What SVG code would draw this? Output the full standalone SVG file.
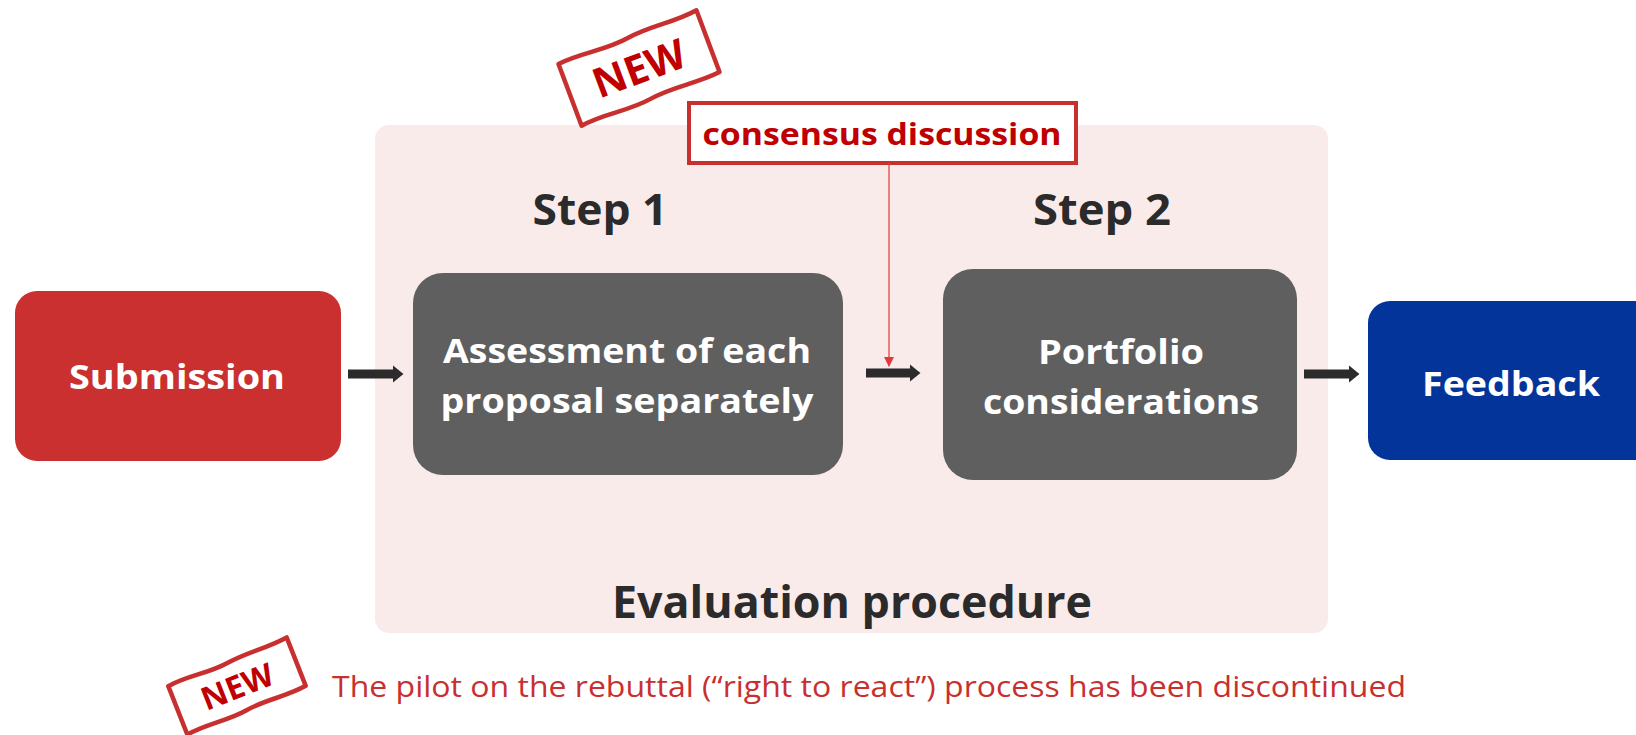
<svg xmlns="http://www.w3.org/2000/svg" width="1636" height="735" viewBox="0 0 1636 735">
<defs>
<style>
.b{font-family:"Open Sans","Noto Sans","Liberation Sans",sans-serif;font-weight:700}
.r{font-family:"Open Sans","Noto Sans","Liberation Sans",sans-serif;font-weight:400}
.wt{fill:#ffffff;font-size:34px}
.dk{fill:#2b2b2b}
.red{fill:#c00000}
.stamp{fill:#ffffff;stroke:#c8302f;stroke-width:4.5;stroke-linejoin:round}
.flow{stroke:#2b2b2b;stroke-width:9;fill:none}
</style>
<marker id="ah" viewBox="0 0 11 18" refX="0.5" refY="9" markerWidth="11" markerHeight="18" orient="auto" markerUnits="userSpaceOnUse">
<path d="M0,0 L11,9 L0,18 Z" fill="#2b2b2b"/>
</marker>
<marker id="rh" viewBox="0 0 10 10" refX="9" refY="5" markerWidth="10" markerHeight="10" orient="auto" markerUnits="userSpaceOnUse">
<path d="M0,0 L10,5 L0,10 Z" fill="#e03a3a"/>
</marker>
</defs>
<rect width="1636" height="735" fill="#ffffff"/>

<g id="evaluation-panel">
<rect x="375" y="125" width="953" height="508" rx="14" fill="#faebeb"/>
<text class="b dk" x="852" y="618" font-size="44" text-anchor="middle" textLength="480" lengthAdjust="spacingAndGlyphs">Evaluation procedure</text>
</g>

<g id="stamp-top" transform="translate(639,68) rotate(-20.5)">
<path class="stamp" d="M-74,-32 C-48,-35 -26,-28 0,-32 C26,-36 48,-30 74,-34 L74,32 C48,35 26,29 0,33 C-26,37 -48,30 -74,34 Z"/>
<text class="b" x="0" y="15" font-size="41" fill="#c00000" text-anchor="middle">NEW</text>
</g>

<g id="consensus">
<rect x="689" y="103" width="387" height="60" fill="#ffffff" stroke="#c8302f" stroke-width="4"/>
<text class="b red" x="882" y="145" font-size="31" text-anchor="middle" textLength="359" lengthAdjust="spacingAndGlyphs">consensus discussion</text>
</g>

<g id="submission">
<rect x="15" y="291" width="326" height="170" rx="22" fill="#c9302f"/>
<text class="b wt" x="177" y="389" text-anchor="middle" textLength="216" lengthAdjust="spacingAndGlyphs">Submission</text>
</g>

<g id="step1">
<text class="b dk" x="600" y="225" font-size="43" text-anchor="middle" textLength="135" lengthAdjust="spacingAndGlyphs">Step 1</text>
<rect x="413" y="273" width="430" height="202" rx="30" fill="#5f5f5f"/>
<text class="b wt" x="627" y="363" text-anchor="middle" textLength="368" lengthAdjust="spacingAndGlyphs">Assessment of each</text>
<text class="b wt" x="627" y="413" text-anchor="middle" textLength="373" lengthAdjust="spacingAndGlyphs">proposal separately</text>
</g>

<g id="step2">
<text class="b dk" x="1102" y="225" font-size="43" text-anchor="middle" textLength="138" lengthAdjust="spacingAndGlyphs">Step 2</text>
<rect x="943" y="269" width="354" height="211" rx="30" fill="#5f5f5f"/>
<text class="b wt" x="1121" y="364" text-anchor="middle" textLength="166" lengthAdjust="spacingAndGlyphs">Portfolio</text>
<text class="b wt" x="1121" y="414" text-anchor="middle" textLength="276" lengthAdjust="spacingAndGlyphs">considerations</text>
</g>

<g id="feedback">
<rect x="1368" y="301" width="300" height="159" rx="22" fill="#023499"/>
<text class="b wt" x="1511" y="396" text-anchor="middle" textLength="178" lengthAdjust="spacingAndGlyphs">Feedback</text>
</g>

<g id="connectors">
<line class="flow" x1="348" y1="374" x2="393" y2="374" marker-end="url(#ah)"/>
<line class="flow" x1="866" y1="373" x2="910" y2="373" marker-end="url(#ah)"/>
<line class="flow" x1="1304" y1="374" x2="1349" y2="374" marker-end="url(#ah)"/>
<line x1="889" y1="163" x2="889" y2="366" stroke="#e03a3a" stroke-width="1.2" marker-end="url(#rh)"/>
</g>

<g id="note">
<g id="stamp-bottom" transform="translate(237,686) rotate(-21.5)">
<path class="stamp" d="M-64,-25 C-42,-28 -22,-22 0,-25 C22,-28 42,-24 64,-27 L64,25 C42,28 22,23 0,26 C-22,29 -42,24 -64,27 Z" stroke-width="4"/>
<text class="b" x="0" y="12" font-size="32" fill="#c00000" text-anchor="middle">NEW</text>
</g>
<text class="r" x="332" y="697" font-size="29" fill="#c8302f" textLength="1074" lengthAdjust="spacingAndGlyphs">The pilot on the rebuttal (“right to react”) process has been discontinued</text>
</g>
</svg>
